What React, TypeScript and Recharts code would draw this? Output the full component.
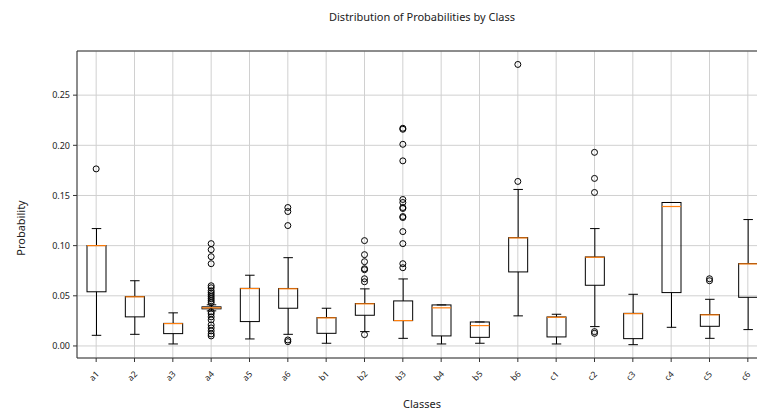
import { ComposedChart, Bar, Scatter, XAxis, YAxis, CartesianGrid, ReferenceLine } from 'recharts';

const classes = ['a1', 'a2', 'a3', 'a4', 'a5', 'a6', 'b1', 'b2', 'b3', 'b4', 'b5', 'b6', 'c1', 'c2', 'c3', 'c4', 'c5', 'c6'];
const whiskerLow = [0.0106, 0.0116, 0.002, 0.035, 0.007, 0.0116, 0.0027, 0.0143, 0.0076, 0.002, 0.0027, 0.03, 0.002, 0.0193, 0.0013, 0.0186, 0.0076, 0.0163];
const q1 = [0.054, 0.029, 0.0123, 0.037, 0.0243, 0.0376, 0.0126, 0.0306, 0.0253, 0.01, 0.0086, 0.0738, 0.009, 0.0605, 0.0073, 0.0532, 0.0196, 0.0485];
const median = [0.1, 0.049, 0.0223, 0.038, 0.0572, 0.057, 0.028, 0.042, 0.0253, 0.038, 0.0203, 0.1077, 0.0286, 0.0884, 0.0322, 0.139, 0.031, 0.0818];
const q3 = [0.1001, 0.0492, 0.0225, 0.039, 0.0574, 0.0573, 0.0283, 0.0423, 0.0449, 0.0409, 0.0239, 0.108, 0.0289, 0.0887, 0.0325, 0.143, 0.0313, 0.0821];
const whiskerHigh = [0.117, 0.065, 0.033, 0.041, 0.0705, 0.088, 0.0376, 0.0569, 0.0668, 0.0409, 0.0239, 0.156, 0.0316, 0.117, 0.0515, 0.143, 0.0465, 0.126];
const outlierValues: number[][] = [
  [0.1765],
  [],
  [],
  [0.102, 0.096, 0.089, 0.082, 0.06, 0.058, 0.055, 0.053, 0.051, 0.049, 0.047, 0.045, 0.043, 0.034, 0.032, 0.029, 0.026, 0.021, 0.018, 0.015, 0.012, 0.01],
  [],
  [0.138, 0.134, 0.12, 0.006, 0.0043],
  [],
  [0.105, 0.091, 0.084, 0.077, 0.076, 0.067, 0.064, 0.0113],
  [0.217, 0.216, 0.201, 0.1845, 0.146, 0.143, 0.138, 0.137, 0.129, 0.128, 0.114, 0.102, 0.082, 0.078],
  [],
  [],
  [0.2806, 0.164],
  [],
  [0.193, 0.167, 0.153, 0.0143, 0.0126],
  [],
  [],
  [0.067, 0.065],
  [],
];
const yTicks = [0, 0.05, 0.1, 0.15, 0.2, 0.25];
const yMin = -0.012;
const yMax = 0.294;

const boxes = classes.map((name, i) => ({
  name,
  range: [whiskerLow[i], whiskerHigh[i]],
  q1: q1[i],
  median: median[i],
  q3: q3[i],
}));

const outliers = classes.flatMap((name, i) => outlierValues[i].map((p) => ({ name, p })));

const font = '"Noto Sans", sans-serif';

const BoxShape = (props: any) => {
  const { x, y, width, height, payload } = props;
  const [lo, hi] = payload.range;
  const toPx = (v: number) => y + (height * (hi - v)) / (hi - lo);
  const cx = x + width / 2;
  const capW = width / 2;
  const top = toPx(payload.q3);
  const bottom = toPx(payload.q1);
  return (
    <g>
      <line x1={cx} x2={cx} y1={y} y2={top} stroke="#000" strokeWidth={1} />
      <line x1={cx} x2={cx} y1={bottom} y2={y + height} stroke="#000" strokeWidth={1} />
      <line x1={cx - capW / 2} x2={cx + capW / 2} y1={y} y2={y} stroke="#000" strokeWidth={1} />
      <line x1={cx - capW / 2} x2={cx + capW / 2} y1={y + height} y2={y + height} stroke="#000" strokeWidth={1} />
      <rect x={x} y={top} width={width} height={Math.max(bottom - top, 0.5)} fill="none" stroke="#000" strokeWidth={1} />
      <line x1={x} x2={x + width} y1={toPx(payload.median)} y2={toPx(payload.median)} stroke="#ff7f0e" strokeWidth={1.2} />
    </g>
  );
};

const XTick = (props: any) => {
  const { x, y, payload } = props;
  return (
    <text x={x} y={y + 14} transform={`rotate(-45, ${x}, ${y + 14})`} textAnchor="middle" fontSize={8.5} fill="#222" fontFamily={font}>
      {payload.value}
    </text>
  );
};

export default function App() {
  return (
    <div style={{ position: 'absolute', left: 0, top: 0, width: 757, height: 412, overflow: 'hidden', background: '#fff', fontFamily: font }}>
      <div style={{ position: 'absolute', left: 0, width: 844, top: 9, textAlign: 'center', fontSize: 11, color: '#222' }}>
        Distribution of Probabilities by Class
      </div>
      <div style={{ position: 'absolute', left: 0, width: 844, top: 396, textAlign: 'center', fontSize: 11, color: '#222' }}>
        Classes
      </div>
      <div style={{ position: 'absolute', left: 20, top: 228, transform: 'translate(-50%, -50%) rotate(-90deg)', fontSize: 11, color: '#222', whiteSpace: 'nowrap' }}>
        Probability
      </div>
      <ComposedChart width={780} height={412} data={boxes} margin={{ top: 51, right: 13, bottom: 14, left: 0 }}>
        <CartesianGrid stroke="#d0d0d0" strokeWidth={1} />
        <XAxis
          dataKey="name"
          type="category"
          allowDuplicatedCategory={false}
          height={40}
          tickSize={4}
          tick={<XTick />}
          interval={0}
          stroke="#333"
        />
        <YAxis
          type="number"
          domain={[yMin, yMax]}
          ticks={yTicks}
          width={77}
          tickSize={4}
          tickMargin={3}
          tickFormatter={(v: number) => v.toFixed(2)}
          tick={{ fontSize: 9, fill: '#222', fontFamily: font }}
          stroke="#333"
          allowDataOverflow
        />
        <ReferenceLine y={yMax} stroke="#333" />
        <Bar dataKey="range" barSize={19} shape={<BoxShape />} isAnimationActive={false} />
        <Scatter
          data={outliers}
          dataKey="p"
          isAnimationActive={false}
          shape={(p: any) => <circle cx={p.cx} cy={p.cy} r={3} fill="none" stroke="#000" strokeWidth={1} />}
        />
      </ComposedChart>
    </div>
  );
}
